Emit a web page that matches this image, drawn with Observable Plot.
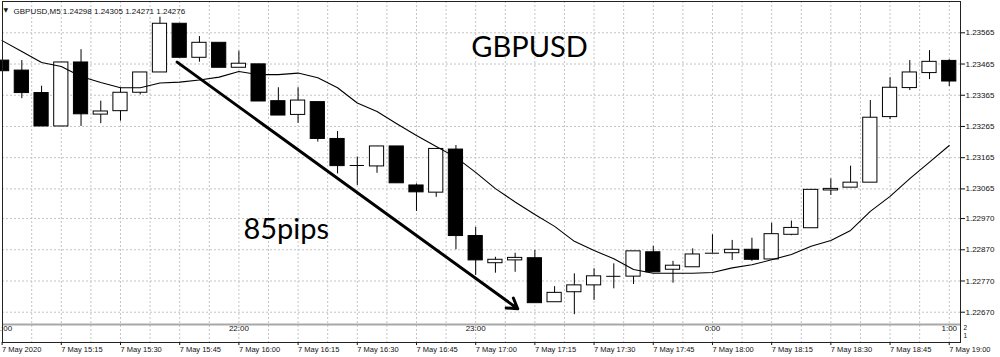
<!DOCTYPE html>
<html>
<head>
<meta charset="utf-8">
<script src="https://cdn.jsdelivr.net/npm/d3@7"></script>
<script src="https://cdn.jsdelivr.net/npm/@observablehq/plot@0.6"></script>
<style>
  html, body { margin: 0; padding: 0; background: #fff; }
  #chart svg { display: block; }
</style>
</head>
<body>
<div id="chart"></div>
<script>
// ---- data ----
const times = ["15:00","15:05","15:10","15:15","15:20","15:25","15:30","15:35","15:40","15:45",
  "15:50","15:55","16:00","16:05","16:10","16:15","16:20","16:25","16:30","16:35",
  "16:40","16:45","16:50","16:55","17:00","17:05","17:10","17:15","17:20","17:25",
  "17:30","17:35","17:40","17:45","17:50","17:55","18:00","18:05","18:10","18:15",
  "18:20","18:25","18:30","18:35","18:40","18:45","18:50","18:55","19:00"];
const open = [1.23476,1.23444,1.23372,1.23265,1.23470,1.23303,1.23314,1.23373,1.23438,1.23594,
  1.23485,1.23533,1.23453,1.23464,1.23346,1.23302,1.23343,1.23225,1.23140,1.23137,
  1.23201,1.23076,1.23053,1.23191,1.22914,1.22827,1.22836,1.22843,1.22702,1.22734,
  1.22756,1.22785,1.22784,1.22862,1.22806,1.22814,1.22859,1.22859,1.22870,1.22839,
  1.22918,1.22939,1.23060,1.23069,1.23085,1.23295,1.23388,1.23436,1.23475];
const high = [1.23476,1.23476,1.23394,1.23470,1.23511,1.23346,1.23389,1.23438,1.23615,1.23594,
  1.23553,1.23533,1.23506,1.23464,1.23389,1.23389,1.23343,1.23249,1.23167,1.23201,
  1.23201,1.23081,1.23193,1.23204,1.22942,1.22846,1.22859,1.22868,1.22752,1.22793,
  1.22809,1.22825,1.22865,1.22881,1.22833,1.22873,1.22918,1.22900,1.22907,1.22955,
  1.22962,1.23062,1.23097,1.23138,1.23348,1.23421,1.23476,1.23508,1.23479];
const low = [1.23442,1.23354,1.23265,1.23265,1.23265,1.23274,1.23282,1.23366,1.23438,1.23485,
  1.23471,1.23453,1.23453,1.23345,1.23300,1.23275,1.23215,1.23113,1.23076,1.23115,
  1.23083,1.22993,1.23038,1.22870,1.22788,1.22795,1.22798,1.22699,1.22702,1.22662,
  1.22708,1.22745,1.22759,1.22798,1.22763,1.22814,1.22859,1.22836,1.22833,1.22839,
  1.22915,1.22939,1.23044,1.23069,1.23085,1.23287,1.23380,1.23415,1.23393];
const close = [1.23442,1.23372,1.23265,1.23470,1.23304,1.23313,1.23373,1.23438,1.23594,1.23485,
  1.23533,1.23453,1.23466,1.23345,1.23300,1.23348,1.23225,1.23138,1.23140,1.23201,
  1.23083,1.23054,1.23193,1.22914,1.22836,1.22838,1.22844,1.22699,1.22732,1.22756,
  1.22785,1.22785,1.22865,1.22798,1.22819,1.22855,1.22859,1.22870,1.22838,1.22920,
  1.22940,1.23062,1.23065,1.23085,1.23293,1.23389,1.23438,1.23472,1.23409];
const ma = [1.23540,1.23505,1.23470,1.23457,1.23425,1.23406,1.23389,1.23389,1.23404,1.23407,
  1.23414,1.23423,1.23441,1.23431,1.23431,1.23436,1.23421,1.23389,1.23340,1.23313,
  1.23274,1.23236,1.23201,1.23166,1.23118,1.23066,1.23023,1.22983,1.22945,1.22897,
  1.22868,1.22841,1.22807,1.22795,1.22795,1.22795,1.22797,1.22812,1.22822,1.22838,
  1.22855,1.22881,1.22900,1.22932,1.22993,1.23041,1.23098,1.23151,1.23204];

const yTicks = [1.23565,1.23465,1.23365,1.23265,1.23165,1.23065,1.22970,1.22870,1.22770,1.22670];
const xTickTimes = ["15:00","15:15","15:30","15:45","16:00","16:15","16:30","16:45","17:00",
  "17:15","17:30","17:45","18:00","18:15","18:30","18:45","19:00"];
const xTickLabels = ["7 May 2020","7 May 15:15","7 May 15:30","7 May 15:45","7 May 16:00",
  "7 May 16:15","7 May 16:30","7 May 16:45","7 May 17:00","7 May 17:15","7 May 17:30",
  "7 May 17:45","7 May 18:00","7 May 18:15","7 May 18:30","7 May 18:45","7 May 19:00"];
const bandTimes = ["15:00","16:00","17:00","18:00","19:00"];
const bandLabels = ["21:00","22:00","23:00","0:00","1:00"];
const titleText = "GBPUSD,M5 1.24298 1.24305 1.24271 1.24276";
const symbolText = "GBPUSD";
const pipsText = "85pips";
// arrow endpoints: [candle position, price]
const arrowStart = [8.87, 1.23471];
const arrowEnd = [26.13, 1.22681];
// annotation anchors: [candle position, price]
const symbolAt = [26.73, 1.23489];
const pipsAt = [12.23, 1.22903];

// ---- build ----
const idx = new Map(times.map((t, i) => [t, i]));
const candles = times.map((t, i) => ({i, t, open: open[i], high: high[i], low: low[i], close: close[i], ma: ma[i]}));
const up = candles.filter(d => d.close > d.open);
const down = candles.filter(d => d.close < d.open);
const doji = candles.filter(d => d.close === d.open);
const half = 0.36;
const tickIdx = xTickTimes.map(t => idx.get(t));
const tickLabelByIdx = new Map(tickIdx.map((v, k) => [v, xTickLabels[k]]));
const bands = bandTimes.map((t, k) => ({i: idx.get(t), label: bandLabels[k]}));
const gridXs = d3.range(1.5, 48.01, 1.5);
const mainBottom = 1.22631;

const small = "'Liberation Sans', Arial, sans-serif";
const big = "Lato, 'Open Sans', sans-serif";
const gridStyle = {stroke: "#c4c4c4", strokeOpacity: 1, strokeDasharray: "2,2"};

const chart = Plot.plot({
  width: 1000,
  height: 357,
  marginLeft: 2,
  marginRight: 40,
  marginTop: 1,
  marginBottom: 15,
  style: {background: "#fff", fontFamily: small, fontSize: "8px", color: "#111", overflow: "hidden"},
  x: {type: "linear", domain: [0.02, 48.57], axis: null, label: null},
  y: {type: "linear", domain: [1.22573, 1.236653], axis: null, label: null},
  marks: [
    Plot.gridY(yTicks, gridStyle),
    Plot.gridX(gridXs, gridStyle),
    Plot.ruleY([mainBottom], {stroke: "#a8a8a8", strokeWidth: 2}),
    Plot.axisY(yTicks, {anchor: "right", label: null, tickSize: 4, tickPadding: 1, tickFormat: d => d.toFixed(5), fontSize: 8, fontFamily: small, stroke: "#111"}),
    Plot.axisX(tickIdx, {anchor: "bottom", label: null, tickSize: 3, tickPadding: 1, tickFormat: d => tickLabelByIdx.get(d), textAnchor: "start", fontSize: 7.5, fontFamily: small}),
    Plot.text(bands, {x: "i", text: "label", frameAnchor: "bottom", dy: -11.5, fontSize: 8, fontFamily: small, fill: "#111"}),
    Plot.text(["2"], {frameAnchor: "bottom-right", dx: 3, dy: -12.5, textAnchor: "start", fontSize: 6.5, fill: "#111"}),
    Plot.text(["1"], {frameAnchor: "bottom-right", dx: 3, dy: -5, textAnchor: "start", fontSize: 6.5, fill: "#111"}),
    // candles
    Plot.ruleX(candles, {x: "i", y1: "low", y2: "high", stroke: "#000", strokeWidth: 1}),
    Plot.rect(up, {x1: d => d.i - half, x2: d => d.i + half, y1: "open", y2: "close", fill: "#fff", stroke: "#000", strokeWidth: 1}),
    Plot.rect(down, {x1: d => d.i - half, x2: d => d.i + half, y1: "open", y2: "close", fill: "#000", stroke: "#000", strokeWidth: 1}),
    Plot.ruleY(doji, {y: "open", x1: d => d.i - half, x2: d => d.i + half, stroke: "#000", strokeWidth: 1}),
    // moving average
    Plot.line(candles, {x: "i", y: "ma", stroke: "#000", strokeWidth: 1.1}),
    // arrow
    Plot.arrow([{a: arrowStart, b: arrowEnd}], {x1: d => d.a[0], y1: d => d.a[1], x2: d => d.b[0], y2: d => d.b[1], stroke: "#000", strokeWidth: 3, headLength: 5.8, headAngle: 64}),
    // annotations
    Plot.text([symbolText], {x: () => symbolAt[0], y: () => symbolAt[1], text: d => d, lineAnchor: "bottom", textAnchor: "middle", fontSize: 29, fontFamily: big, fill: "#000"}),
    Plot.text([pipsText], {x: () => pipsAt[0], y: () => pipsAt[1], text: d => d, lineAnchor: "bottom", textAnchor: "start", fontSize: 29, fontFamily: big, fill: "#000"}),
    Plot.text([titleText], {frameAnchor: "top-left", dx: 11, dy: 6.5, textAnchor: "start", fontSize: 8, fontFamily: small, fill: "#111"}),
    Plot.text(["▼"], {frameAnchor: "top-left", dx: 1, dy: 6, textAnchor: "start", fontSize: 6, fontFamily: "'DejaVu Sans', sans-serif", fill: "#111"}),
    Plot.frame({stroke: "#222", strokeWidth: 1})
  ]
});
document.getElementById("chart").appendChild(chart);
</script>
</body>
</html>
